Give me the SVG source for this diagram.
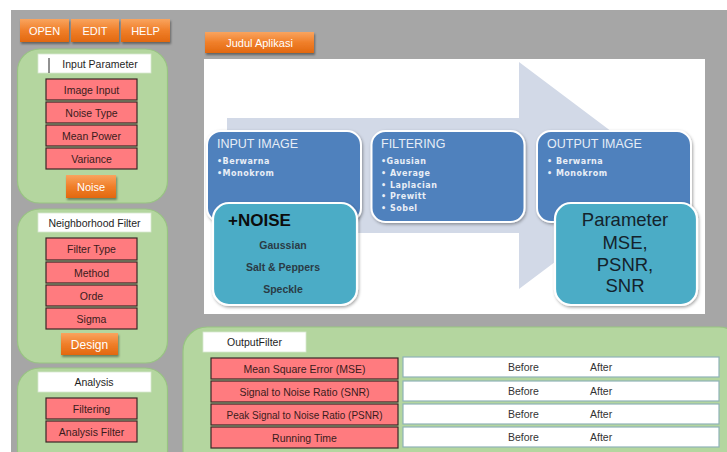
<svg xmlns="http://www.w3.org/2000/svg" width="727" height="452" viewBox="0 0 727 452">
<defs>
<linearGradient id="og" x1="0" y1="0" x2="0" y2="1">
<stop offset="0" stop-color="#f9a45e"/>
<stop offset="0.5" stop-color="#f07f2a"/>
<stop offset="1" stop-color="#e2680f"/>
</linearGradient>
<filter id="sh" x="-10%" y="-10%" width="130%" height="150%">
<feDropShadow dx="1" dy="2" stdDeviation="1.2" flood-color="#000" flood-opacity="0.4"/>
</filter>
<filter id="sh2" x="-10%" y="-10%" width="120%" height="120%">
<feDropShadow dx="1" dy="1.5" stdDeviation="1.5" flood-color="#000" flood-opacity="0.35"/>
</filter>
</defs>
<style>
.btn{fill:url(#og);filter:url(#sh)}
.btxt{font-family:"Liberation Sans",Arial,sans-serif;font-size:11px;fill:#ffffff;text-anchor:middle}
.panel{fill:#b4d69f;stroke:#98c482;stroke-width:1.2}
.lbl{fill:#ffffff;stroke:#d8e8d0;stroke-width:0.8}
.ltxt{font-family:"Liberation Sans",Arial,sans-serif;font-size:10.5px;fill:#1e1e1e;text-anchor:middle}
.red{fill:#ff7b7f;stroke:#3a2626;stroke-width:1.2}
.rtxt{font-family:"Liberation Sans",Arial,sans-serif;font-size:10.5px;fill:#3a1c1c;text-anchor:middle}
.wbox{fill:#ffffff;stroke:#8fb2b8;stroke-width:1.2}
.wtxt{font-family:"Liberation Sans",Arial,sans-serif;font-size:10.5px;fill:#333333}
.blue{fill:#4f81bd;stroke:#ffffff;stroke-width:2;filter:url(#sh2)}
.teal{fill:#4bacc6;stroke:#ffffff;stroke-width:2.2;filter:url(#sh2)}
.btitle{font-family:"Liberation Sans",Arial,sans-serif;font-size:12.5px;fill:#e6edf6}
.bul{font-family:"DejaVu Sans",Arial,sans-serif;font-size:8px;font-weight:bold;fill:#e8eef6;letter-spacing:0.5px}
.ntxt{font-family:"Liberation Sans",Arial,sans-serif;font-size:10.5px;font-weight:bold;fill:#2a3b45;text-anchor:middle}
.ptxt{font-family:"Liberation Sans",Arial,sans-serif;font-size:18.5px;fill:#14232c;text-anchor:middle}
</style>
<rect x="0" y="0" width="727" height="452" fill="#ffffff"/>
<rect x="11" y="10" width="716" height="442" fill="#a6a6a6"/>

<g id="menu">
<rect class="btn" x="20" y="19" width="49" height="23"/>
<text class="btxt" x="44.5" y="35">OPEN</text>
<rect class="btn" x="71" y="19" width="48" height="23"/>
<text class="btxt" x="95" y="35">EDIT</text>
<rect class="btn" x="121" y="19" width="49" height="23"/>
<text class="btxt" x="145.5" y="35">HELP</text>
</g>

<g id="input-parameter">
<rect class="panel" x="17.5" y="49" width="150" height="154" rx="22"/>
<rect class="lbl" x="38" y="54" width="113" height="19"/>
<line x1="49" y1="58" x2="49" y2="73" stroke="#222" stroke-width="1"/>
<text class="ltxt" x="100" y="67.5">Input Parameter</text>
<rect class="red" x="46" y="79" width="91" height="21"/>
<text class="rtxt" x="91.5" y="93.5">Image Input</text>
<rect class="red" x="46" y="102" width="91" height="21"/>
<text class="rtxt" x="91.5" y="116.5">Noise Type</text>
<rect class="red" x="46" y="125" width="91" height="21"/>
<text class="rtxt" x="91.5" y="139.5">Mean Power</text>
<rect class="red" x="46" y="148" width="91" height="21"/>
<text class="rtxt" x="91.5" y="162.5">Variance</text>
<rect class="btn" x="66" y="175" width="50" height="23"/>
<text class="btxt" x="91" y="191">Noise</text>
</g>

<g id="neighborhood-filter">
<rect class="panel" x="17.5" y="209" width="150" height="154" rx="22"/>
<rect class="lbl" x="38" y="213" width="113" height="19"/>
<text class="ltxt" x="94.5" y="226.5">Neighborhood Filter</text>
<rect class="red" x="46" y="238" width="91" height="22"/>
<text class="rtxt" x="91.5" y="253">Filter Type</text>
<rect class="red" x="46" y="262" width="91" height="21"/>
<text class="rtxt" x="91.5" y="276.5">Method</text>
<rect class="red" x="46" y="285" width="91" height="21"/>
<text class="rtxt" x="91.5" y="299.5">Orde</text>
<rect class="red" x="46" y="308" width="91" height="21"/>
<text class="rtxt" x="91.5" y="322.5">Sigma</text>
<rect class="btn" x="61" y="333" width="57" height="22"/>
<text class="btxt" x="89.5" y="349" style="font-size:12px">Design</text>
</g>

<g id="analysis">
<rect class="panel" x="17.5" y="368" width="150" height="110" rx="22"/>
<rect class="lbl" x="38" y="372" width="113" height="20"/>
<text class="ltxt" x="94" y="386">Analysis</text>
<rect class="red" x="46" y="398" width="91" height="21"/>
<text class="rtxt" x="91.5" y="412.5">Filtering</text>
<rect class="red" x="46" y="421" width="91" height="21"/>
<text class="rtxt" x="91.5" y="435.5">Analysis Filter</text>
</g>

<g id="title">
<rect class="btn" x="205" y="32" width="109" height="21"/>
<text class="btxt" x="259.5" y="47">Judul Aplikasi</text>
</g>

<g id="flow-image">
<rect x="204" y="59" width="501" height="255" fill="#ffffff"/>
<polygon points="227,118 519,118 519,62 670,175.5 519,289 519,233 227,233" fill="#d2d9e7"/>
<g id="input-image">
<rect class="blue" x="207" y="131" width="154" height="91" rx="14"/>
<text class="btitle" x="217" y="148">INPUT IMAGE</text>
<text class="bul" x="217" y="164">•Berwarna</text>
<text class="bul" x="217" y="176">•Monokrom</text>
</g>
<g id="filtering">
<rect class="blue" x="371.5" y="131" width="153" height="91" rx="14"/>
<text class="btitle" x="381" y="148">FILTERING</text>
<text class="bul" x="381" y="164">•Gausian</text>
<text class="bul" x="381" y="176">• Average</text>
<text class="bul" x="381" y="187.5">• Laplacian</text>
<text class="bul" x="381" y="199">• Prewitt</text>
<text class="bul" x="381" y="210.5">• Sobel</text>
</g>
<g id="output-image">
<rect class="blue" x="537" y="131" width="154" height="91" rx="14"/>
<text class="btitle" x="547" y="148">OUTPUT IMAGE</text>
<text class="bul" x="547" y="164">• Berwarna</text>
<text class="bul" x="547" y="176">• Monokrom</text>
</g>
<g id="noise">
<rect class="teal" x="213" y="203" width="144" height="102" rx="16"/>
<text x="228" y="226" font-family="Liberation Sans,Arial,sans-serif" font-size="17" font-weight="bold" fill="#0c0c0c">+NOISE</text>
<text class="ntxt" x="283" y="249">Gaussian</text>
<text class="ntxt" x="283" y="271">Salt &amp; Peppers</text>
<text class="ntxt" x="283" y="292.5">Speckle</text>
</g>
<g id="parameter">
<rect class="teal" x="555" y="203" width="142" height="102" rx="16"/>
<text class="ptxt" x="625" y="226">Parameter</text>
<text class="ptxt" x="625" y="249">MSE,</text>
<text class="ptxt" x="625" y="270.5">PSNR,</text>
<text class="ptxt" x="625" y="292">SNR</text>
</g>
</g>

<g id="output-filter">
<rect class="panel" x="183" y="327" width="560" height="150" rx="24"/>
<rect class="lbl" x="203" y="332" width="103" height="20"/>
<text class="ltxt" x="254.5" y="346">OutputFilter</text>
<rect class="red" x="211" y="358" width="187" height="21"/>
<text class="rtxt" x="304.5" y="372.5">Mean Square Error (MSE)</text>
<rect class="red" x="211" y="381" width="187" height="21"/>
<text class="rtxt" x="304.5" y="395.5">Signal to Noise Ratio (SNR)</text>
<rect class="red" x="211" y="404" width="187" height="21"/>
<text class="rtxt" x="304.5" y="418.5" textLength="156" lengthAdjust="spacingAndGlyphs">Peak Signal to Noise Ratio (PSNR)</text>
<rect class="red" x="211" y="427" width="187" height="21"/>
<text class="rtxt" x="304.5" y="441.5">Running Time</text>
<rect class="wbox" x="403" y="357" width="316" height="20"/>
<text class="wtxt" x="508" y="371">Before</text><text class="wtxt" x="590" y="371">After</text>
<rect class="wbox" x="403" y="381" width="316" height="20"/>
<text class="wtxt" x="508" y="395">Before</text><text class="wtxt" x="590" y="395">After</text>
<rect class="wbox" x="403" y="404" width="316" height="20"/>
<text class="wtxt" x="508" y="418">Before</text><text class="wtxt" x="590" y="418">After</text>
<rect class="wbox" x="403" y="427" width="316" height="20"/>
<text class="wtxt" x="508" y="441">Before</text><text class="wtxt" x="590" y="441">After</text>
</g>
</svg>
